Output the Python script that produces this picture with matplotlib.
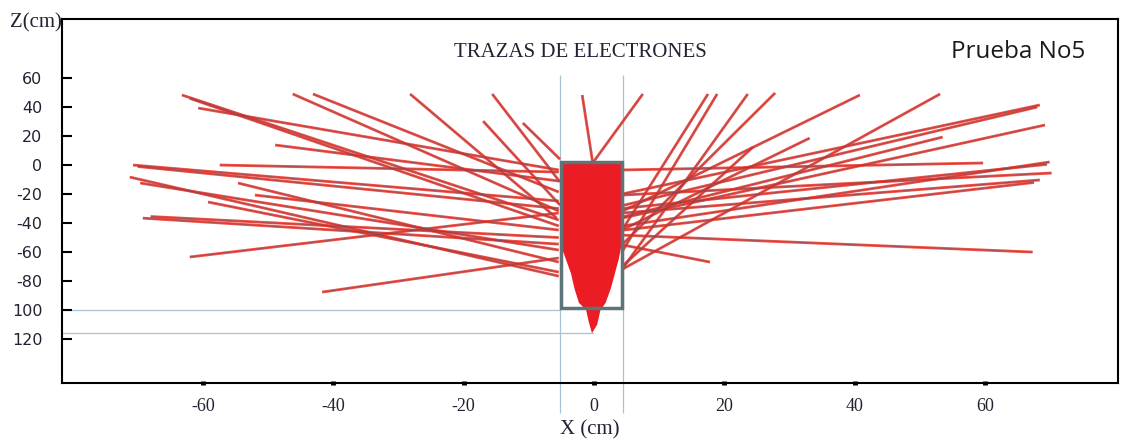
import matplotlib
matplotlib.use("Agg")
import matplotlib.pyplot as plt
from matplotlib.collections import LineCollection
from matplotlib.patches import Rectangle

# electron tracks: point where each leaves the block -> end point (cm)
inner_x = [-5.4, -5.4, -5.4, -5.4, -5.4, -5.4, -5.4, -5.4, -5.4, -5.4,
           -5.4, -5.4, -5.4, -5.7, -5.2, -5.2, -5.2, -0.2, -0.1,
           4.3, 4.3, 4.3, 4.3, 4.3, 4.3, 4.3, 4.3, 4.3, 4.3,
           4.3, 4.3, 4.3, 4.3, 4.3, 4.3, -5.4, -5.4,
           -5.4, -5.4, -5.4, 4.3, 4.3, 4.3, 4.3]
inner_z = [-37.9, -3.4, -31.7, -18.6, -11.0, -24.8, -4.8, -76.6, -58.6, -73.8,
           -54.5, -33.1, -64.1, -36.6, -11.7, -27.6, 4.0, 2.0, 2.0,
           -45.0, -60.0, -72.0, -55.0, -44.8, -32.0, -72.0, -20.0, -36.6, -42.1,
           -20.7, -33.1, -3.4, -35.9, -48.3, -55.0, -66.9, -44.8,
           -30.0, -50.0, -42.0, -30.0, -45.0, -28.0, -70.0]
outer_x = [-63.2, -60.7, -46.2, -43.1, -48.9, -70.7, -57.4, -71.2, -69.6, -59.2,
           -69.2, -62.0, -41.7, -28.2, -15.6, -17.0, -10.9, -1.8, 7.5,
           17.5, 18.9, 23.6, 27.8, 33.1, 40.8, 53.1, 68.4, 69.2, 69.9,
           70.2, 68.4, 59.7, 53.5, 67.3, 17.8, -54.6, -52.0,
           -70.0, -68.0, -62.0, 69.5, 67.5, 68.0, 24.4]
outer_z = [48.3, 39.3, 49.0, 49.0, 13.8, 0.0, 0.0, -8.3, -12.4, -25.5,
           -36.6, -63.4, -87.6, 49.0, 49.0, 30.3, 29.0, 48.3, 49.0,
           49.0, 49.0, 49.0, 49.7, 18.6, 48.3, 49.0, 41.4, 27.6, 2.1,
           -5.5, -10.3, 1.4, 19.3, -60.0, -66.9, -12.4, -20.7,
           -1.0, -35.5, 46.0, 0.5, -12.0, 40.0, 12.4]

# dense deposition inside the block
dose_x = [-5.1, 4.25, 4.25, 3.8, 3.2, 2.6, 1.8, 1.0, 0.5, -0.3, -0.8, -1.2,
          -2.3, -3.0, -3.5, -4.3, -5.1]
dose_z = [2.0, 2.0, -55.0, -65.0, -75.0, -85.0, -95.0, -100.0, -110.0, -116.0,
          -108.0, -100.0, -95.0, -85.0, -75.0, -65.0, -55.0]

block_x = [-5.1, 4.25]
block_z = [-98.8, 2.0]

guide_x = [-5.2, 4.4]
guide_x_span = [-171, 62]
guide_z = [-100, -116]
guide_z_end = [-5.2, -0.2]

x_ticks = [-60, -40, -20, 0, 20, 40, 60]
z_ticks = [60, 40, 20, 0, -20, -40, -60, -80, -100, -120]
z_tick_labels = ["60", "40", "20", "0", "-20", "-40", "-60", "-80", "100", "120"]

fig = plt.figure(figsize=(11.29, 4.43), dpi=100)
ax = fig.add_axes([0.0549, 0.1354, 0.9354, 0.8217])
ax.set_xlim(-81.6, 80.4)
ax.set_ylim(-150.3, 100.7)

# each track: red stroke with a thin dark core
segs = [[(ix, iz), (ox, oz)] for ix, iz, ox, oz in zip(inner_x, inner_z, outer_x, outer_z)]
ax.add_collection(LineCollection(segs, colors="#ea3b30", linewidths=2.0, alpha=0.9, zorder=2))
ax.add_collection(LineCollection(segs, colors="#3d4766", linewidths=0.5, alpha=0.45, zorder=3))

ax.fill(dose_x, dose_z, color="#ec1c24", lw=0, zorder=4)
ax.add_patch(Rectangle((block_x[0], block_z[0]), block_x[1] - block_x[0],
                       block_z[1] - block_z[0], fill=False,
                       edgecolor="#5f7479", lw=2.5, zorder=5))

guide_col = "#a7c4d6"
ax.vlines(guide_x, guide_x_span[0], guide_x_span[1], color=guide_col, lw=0.9,
          clip_on=False, zorder=1)
for gz, gx in zip(guide_z, guide_z_end):
    ax.plot([ax.get_xlim()[0], gx], [gz, gz], color=guide_col, lw=0.9, zorder=1)

for side in ["left", "right", "top", "bottom"]:
    ax.spines[side].set_linewidth(1.5)
    ax.spines[side].set_color("black")

ax.set_xticks(x_ticks)
ax.set_xticklabels([str(v) for v in x_ticks], family="Liberation Serif",
                   fontsize=13, color="#222233")
ax.tick_params(axis="x", direction="inout", length=3, width=3.5, pad=9)

ax.set_yticks(z_ticks)
ax.set_yticklabels(z_tick_labels, family="DejaVu Sans", fontsize=11.5,
                   color="#222233")
ax.tick_params(axis="y", direction="in", length=7, width=1.5, pad=14)

ax.set_xlabel("X (cm)", family="Liberation Serif", fontsize=15,
              color="#222233", labelpad=4)
ax.text(0.0, 0.99, "Z(cm)", transform=ax.transAxes, ha="right", va="center",
        family="Liberation Serif", fontsize=15, color="#222233")
ax.text(0.4905, 0.909, "TRAZAS DE ELECTRONES", transform=ax.transAxes,
        ha="center", va="center", family="Liberation Serif", fontsize=15,
        color="#222233")
ax.text(0.905, 0.909, "Prueba No5", transform=ax.transAxes, ha="center",
        va="center", family="Open Sans", fontsize=17.5, color="#1a1a1a")

fig.savefig("out.png", dpi=100)
